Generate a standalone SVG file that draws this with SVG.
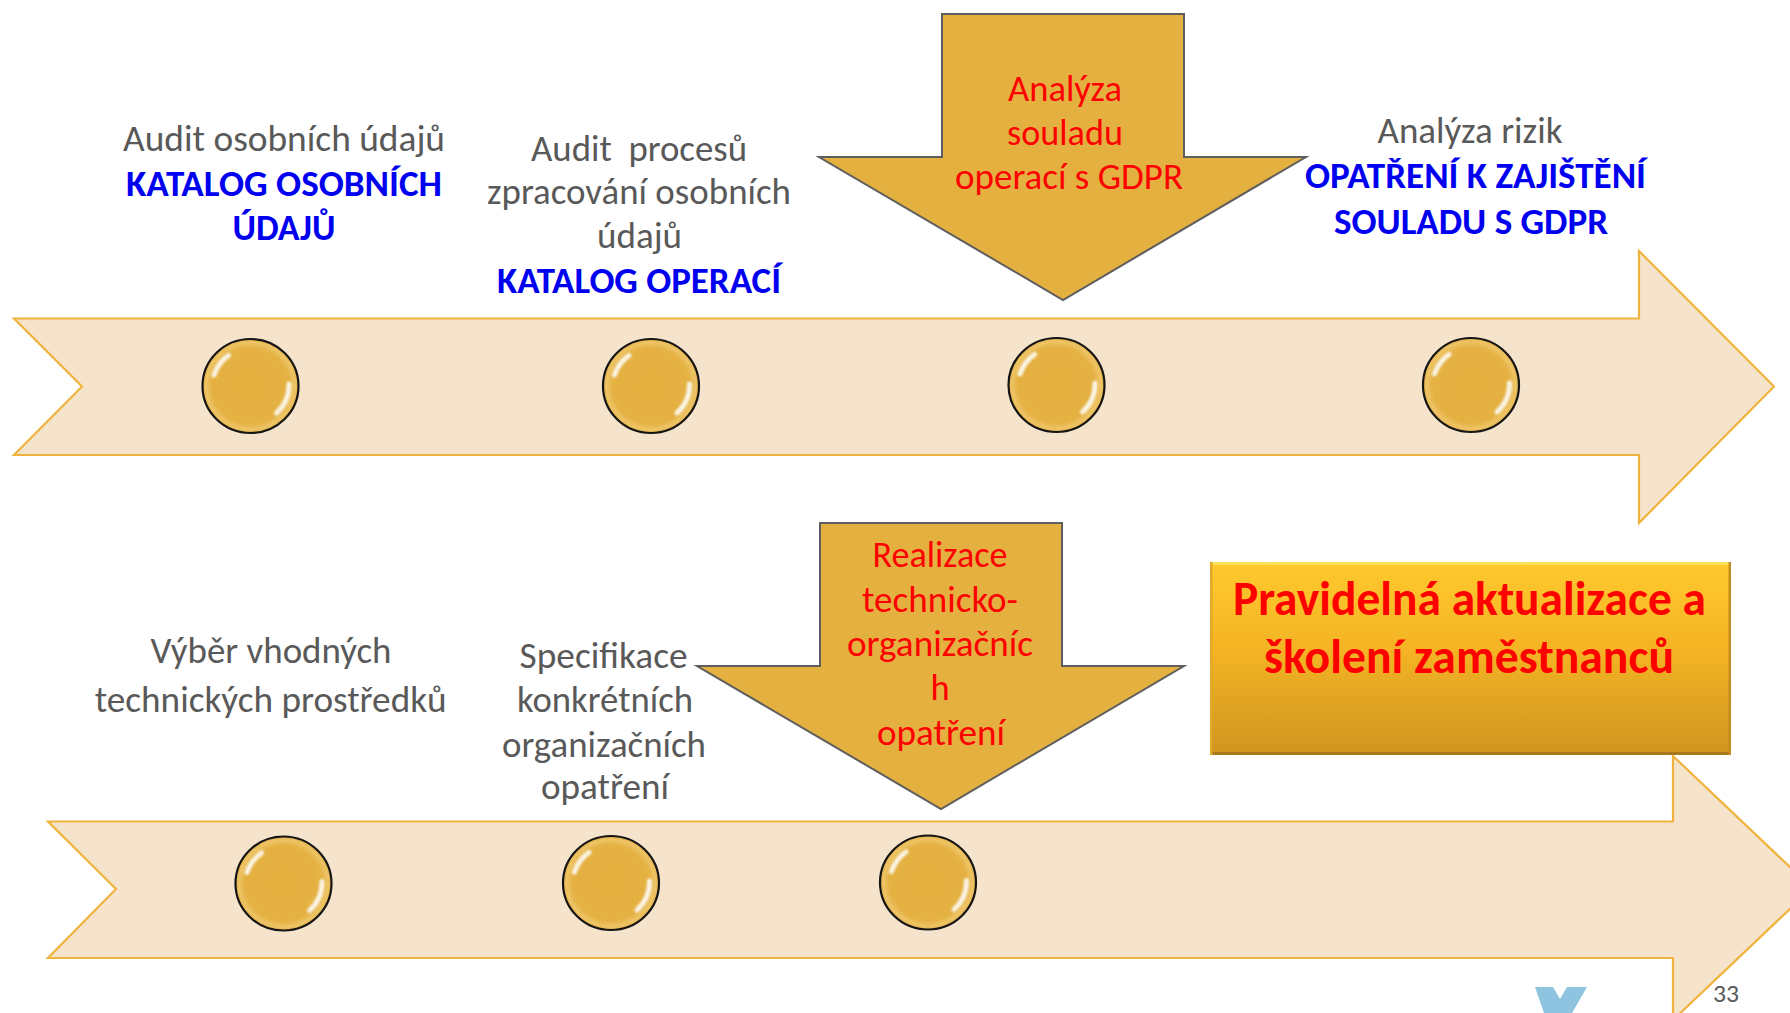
<svg xmlns="http://www.w3.org/2000/svg" xmlns:xlink="http://www.w3.org/1999/xlink" width="1790" height="1013" viewBox="0 0 1790 1013">
<style>
  text { font-family: Carlito, "Open Sans", "Liberation Sans", sans-serif; text-anchor: middle; }
  .g { fill: #595959; font-size: 36.5px; }
  .b { fill: #0000F0; font-size: 36.5px; font-weight: bold; }
  .r { fill: #FF0000; font-size: 36.5px; }
  .rb { fill: #FF0000; font-size: 47.5px; font-weight: bold; }
  .band { fill: #F5E3CB; stroke: #F0B43E; stroke-width: 2.2; stroke-linejoin: miter; }
  .down { fill: #E4B040; stroke: #5E5E5E; stroke-width: 2; }
  .pg { fill: #595959; font-size: 24px; }
  .hl { fill: none; stroke: #FFFFFF; stroke-width: 5; stroke-linecap: round; opacity: 0.85; }
</style>
<defs>
  <radialGradient id="beadFill" cx="0.5" cy="0.5" r="0.5">
    <stop offset="0" stop-color="#E3AF3E"/>
    <stop offset="0.8" stop-color="#E4B142"/>
    <stop offset="0.93" stop-color="#EEC466"/>
    <stop offset="1" stop-color="#E0AE45"/>
  </radialGradient>
  <filter id="soft" x="-50%" y="-50%" width="200%" height="200%">
    <feGaussianBlur stdDeviation="1.1"/>
  </filter>
  <linearGradient id="boxFill" x1="0" y1="0" x2="0" y2="1">
    <stop offset="0" stop-color="#FFC92E"/>
    <stop offset="0.45" stop-color="#F4B424"/>
    <stop offset="1" stop-color="#CF951F"/>
  </linearGradient>
  <g id="bead">
    <ellipse cx="0" cy="0" rx="48" ry="47" fill="url(#beadFill)" stroke="#151515" stroke-width="2.2"/>
    <path class="hl" filter="url(#soft)" d="M -36.5 -11 A 38 38 0 0 1 -22 -30.5"/>
    <path class="hl" filter="url(#soft)" d="M 38.5 -2 A 38 38 0 0 1 26 27"/>
  </g>
</defs>
<rect x="0" y="0" width="1790" height="1013" fill="#FFFFFF"/>

<g id="connectors">
  <polygon id="timeline-top" class="band" points="14,318.5 1639,318.5 1639,251 1774,386.5 1639,523 1639,455 14,455 82,386.5"/>
  <polygon id="timeline-bottom" class="band" points="48,821.5 1673,821.5 1673,756 1812,888 1673,1020 1673,958 48,958 116,889"/>
</g>

<g id="step-audit-udaju">
  <use xlink:href="#bead" href="#bead" x="250.5" y="386"/>
  <text class="g" x="284" y="150.7" textLength="322" lengthAdjust="spacingAndGlyphs">Audit osobních údajů</text>
  <text class="b" x="284" y="196" textLength="316" lengthAdjust="spacingAndGlyphs">KATALOG OSOBNÍCH</text>
  <text class="b" x="284" y="240" textLength="103" lengthAdjust="spacingAndGlyphs">ÚDAJŮ</text>
</g>

<g id="step-audit-procesu">
  <use xlink:href="#bead" href="#bead" x="651" y="386"/>
  <text class="g" x="639" y="160.5" textLength="216" lengthAdjust="spacingAndGlyphs" xml:space="preserve">Audit  procesů</text>
  <text class="g" x="639" y="204" textLength="304" lengthAdjust="spacingAndGlyphs">zpracování osobních</text>
  <text class="g" x="639.5" y="248" textLength="85" lengthAdjust="spacingAndGlyphs">údajů</text>
  <text class="b" x="639" y="293" textLength="284" lengthAdjust="spacingAndGlyphs">KATALOG OPERACÍ</text>
</g>

<g id="step-analyza-souladu">
  <polygon class="down" points="942,14 1184,14 1184,157 1306,157 1063,300 819,157 942,157"/>
  <text class="r" x="1065" y="100.5" textLength="114" lengthAdjust="spacingAndGlyphs">Analýza</text>
  <text class="r" x="1065" y="144.6" textLength="116" lengthAdjust="spacingAndGlyphs">souladu</text>
  <text class="r" x="1069" y="189.4" textLength="228" lengthAdjust="spacingAndGlyphs">operací s GDPR</text>
  <use xlink:href="#bead" href="#bead" x="1056.5" y="385"/>
</g>

<g id="step-analyza-rizik">
  <use xlink:href="#bead" href="#bead" x="1471" y="385"/>
  <text class="g" x="1470" y="143" textLength="185" lengthAdjust="spacingAndGlyphs">Analýza rizik</text>
  <text class="b" x="1475.5" y="187.7" textLength="341" lengthAdjust="spacingAndGlyphs">OPATŘENÍ K ZAJIŠTĚNÍ</text>
  <text class="b" x="1471" y="234" textLength="274" lengthAdjust="spacingAndGlyphs">SOULADU S GDPR</text>
</g>

<g id="step-vyber-prostredku">
  <use xlink:href="#bead" href="#bead" x="283.5" y="883.5"/>
  <text class="g" x="271" y="663" textLength="241" lengthAdjust="spacingAndGlyphs">Výběr vhodných</text>
  <text class="g" x="270.7" y="711.7" textLength="352" lengthAdjust="spacingAndGlyphs">technických prostředků</text>
</g>

<g id="step-specifikace">
  <use xlink:href="#bead" href="#bead" x="611" y="883"/>
  <text class="g" x="603.6" y="668" textLength="168" lengthAdjust="spacingAndGlyphs">Specifikace</text>
  <text class="g" x="605" y="711.7" textLength="176" lengthAdjust="spacingAndGlyphs">konkrétních</text>
  <text class="g" x="604" y="756.5" textLength="204" lengthAdjust="spacingAndGlyphs">organizačních</text>
  <text class="g" x="605" y="799" textLength="128" lengthAdjust="spacingAndGlyphs">opatření</text>
</g>

<g id="step-realizace">
  <polygon class="down" points="820,523 1062,523 1062,666 1184,666 941,809 697,666 820,666"/>
  <text class="r" x="940" y="566.7" textLength="135" lengthAdjust="spacingAndGlyphs">Realizace</text>
  <text class="r" x="940" y="611.7" textLength="156" lengthAdjust="spacingAndGlyphs">technicko-</text>
  <text class="r" x="940" y="655.7" textLength="186" lengthAdjust="spacingAndGlyphs">organizačníc</text>
  <text class="r" x="940" y="700">h</text>
  <text class="r" x="941" y="745" textLength="128" lengthAdjust="spacingAndGlyphs">opatření</text>
  <use xlink:href="#bead" href="#bead" x="928" y="882.5"/>
</g>

<g id="step-skoleni">
  <rect x="1210" y="562" width="521" height="193" fill="url(#boxFill)"/>
  <rect x="1210" y="562" width="521" height="3" fill="#FFE15C"/>
  <rect x="1210" y="752" width="521" height="3" fill="#A8791C"/>
  <rect x="1210" y="562" width="2.5" height="193" fill="#E2A828"/>
  <rect x="1728.5" y="562" width="2.5" height="193" fill="#C48C1E"/>
  <text class="rb" x="1469.5" y="615" textLength="473" lengthAdjust="spacingAndGlyphs">Pravidelná aktualizace a</text>
  <text class="rb" x="1469" y="673" textLength="410" lengthAdjust="spacingAndGlyphs">školení zaměstnanců</text>
</g>

<g id="footer">
  <polygon points="1535,987 1553,987 1560,999 1567,987 1587,987 1572,1013 1544,1013" fill="#8EC4E0"/>
  <text class="pg" x="1726" y="1002" textLength="26" lengthAdjust="spacingAndGlyphs">33</text>
</g>
</svg>
